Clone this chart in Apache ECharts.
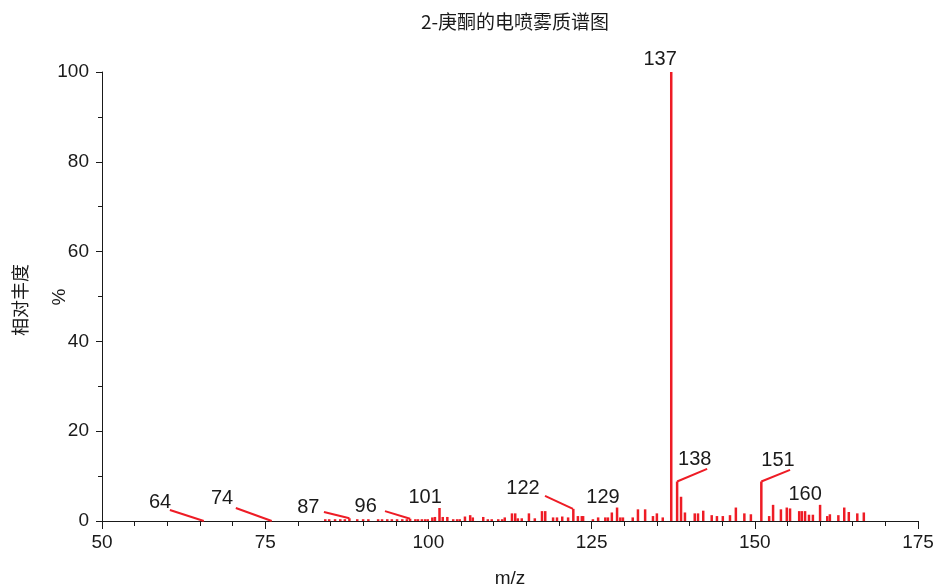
<!DOCTYPE html>
<html><head><meta charset="utf-8">
<script src="https://cdn.jsdelivr.net/npm/echarts@6/dist/echarts.min.js"></script>
<style>html,body{margin:0;padding:0;background:#fff}#c{width:940px;height:586px}</style>
</head><body><div id="c"></div>
<script>
// m/z positions of the peaks
const mz = [84.2,84.8,85.7,86.5,87.2,87.9,89.1,90.0,90.8,92.3,92.9,93.7,94.4,95.2,96.0,96.7,97.2,98.0,98.4,99.0,99.5,99.9,100.6,101.0,101.7,102.2,102.9,103.8,104.4,104.8,105.6,106.4,106.8,108.4,109.1,109.7,110.7,111.3,111.7,112.8,113.3,113.7,114.3,115.4,116.3,117.4,117.9,119.1,119.7,120.5,121.4,122.2,122.9,123.5,123.7,125.2,126.0,127.1,127.5,128.1,128.9,129.4,129.8,131.3,132.1,133.2,134.4,135.0,135.9,137.2,138.1,138.7,139.3,140.8,141.3,142.1,143.4,144.2,145.1,146.2,147.1,148.4,149.4,151.0,152.2,152.8,154.0,154.9,155.4,156.8,157.2,157.7,158.3,158.9,160.0,161.1,161.5,162.8,163.7,164.4,165.7,166.7];
// relative abundance (%)
const abundance = [0.4,0.4,0.4,0.4,0.4,0.6,0.4,0.4,0.4,0.4,0.4,0.4,0.4,0.4,0.4,0.4,0.5,0.4,0.4,0.4,0.4,0.4,0.8,0.9,2.9,0.9,0.9,0.4,0.4,0.4,1.0,1.3,0.8,0.9,0.4,0.4,0.4,0.4,0.8,1.7,1.7,0.6,0.6,1.7,0.6,2.2,2.2,0.8,0.8,1.0,0.8,2.7,1.1,1.1,1.1,0.4,0.8,0.8,0.8,1.9,3.0,0.8,0.8,0.8,2.6,2.6,1.1,1.7,0.8,100,8.8,5.4,1.9,1.7,1.7,2.3,1.3,1.1,1.1,1.3,3.0,1.7,1.5,8.8,1.1,3.6,2.6,3.0,2.8,2.2,2.2,2.2,1.4,1.4,3.6,1.1,1.5,1.3,3.0,2.0,1.7,1.9];
// annotation labels
const labelTexts = ['64','74','87','96','101','122','129','137','138','151','160'];
const labelX = [58.9,68.4,81.6,90.4,99.5,114.5,126.75,135.5,140.8,153.55,157.7];
const labelY = [4.2,5.1,3.1,3.3,5.3,7.3,5.3,102.7,13.6,13.4,5.8];
// leader lines: start (near label) -> end (peak)
const leadFromX = [60.4,70.5,84.0,93.35,117.86,138.1,151.0];
const leadFromY = [2.45,2.9,2.0,2.2,5.6,8.8,8.8];
const leadToX = [65.6,76.0,87.9,97.2,122.15,142.7,155.4];
const leadToY = [0,0,0.6,0.5,2.7,11.6,11.4];

const RED = '#ee1c25';
const FONT = '"Liberation Sans", Arial, sans-serif';
const INK = '#1a1a1a';
const chart = echarts.init(document.getElementById('c'));
chart.setOption({
  animation: false,
  title: {
    text: '2-庚酮的电喷雾质谱图', left: 510, top: 7, textAlign: 'center',
    textStyle: {fontFamily: '"Noto Sans CJK SC", sans-serif', fontSize: 19, fontWeight: 'normal', color: INK}
  },
  grid: {left: 102, right: 22, top: 72, bottom: 65, containLabel: false, outerBoundsMode: 'none'},
  xAxis: {
    type: 'value', min: 50, max: 175, interval: 25,
    name: 'm/z', nameLocation: 'middle', nameGap: 48,
    nameTextStyle: {fontFamily: FONT, fontSize: 19, color: INK},
    axisLine: {lineStyle: {color: INK, width: 1}},
    axisTick: {show: true, length: 8, lineStyle: {color: INK}},
    minorTick: {show: true, splitNumber: 5, length: 5, lineStyle: {color: INK}},
    axisLabel: {fontFamily: FONT, fontSize: 19, color: INK, margin: 12},
    splitLine: {show: false}
  },
  yAxis: {
    type: 'value', min: 0, max: 100, interval: 20,
    axisLine: {show: true, lineStyle: {color: INK, width: 1}},
    axisTick: {show: true, length: 6, lineStyle: {color: INK}},
    minorTick: {show: true, splitNumber: 2, length: 4, lineStyle: {color: INK}},
    axisLabel: {fontFamily: FONT, fontSize: 19, color: INK, margin: 13},
    splitLine: {show: false}
  },
  graphic: [
    {type: 'text', x: 20, y: 300, rotation: Math.PI / 2,
     style: {text: '相对丰度', font: '18px "Noto Sans CJK SC"', fill: INK, textAlign: 'center', textVerticalAlign: 'middle'}},
    {type: 'text', x: 60, y: 297, rotation: Math.PI / 2,
     style: {text: '%', font: '19px "Liberation Sans"', fill: INK, textAlign: 'center', textVerticalAlign: 'middle'}}
  ],
  series: [
    {
      type: 'bar', barWidth: 2.5, itemStyle: {color: RED},
      data: mz.map((m, i) => [m, abundance[i]])
    },
    {
      type: 'lines', coordinateSystem: 'cartesian2d',
      lineStyle: {color: RED, width: 2, opacity: 1},
      data: leadFromX.map((x, i) => ({coords: [[x, leadFromY[i]], [leadToX[i], leadToY[i]]]}))
    },
    {
      type: 'scatter', symbolSize: 0, clip: false,
      itemStyle: {opacity: 1},
      label: {show: true, position: 'inside', formatter: p => p.data[2],
              fontFamily: FONT, fontSize: 20, color: INK, opacity: 1},
      data: labelX.map((x, i) => [x, labelY[i], labelTexts[i]])
    }
  ]
});
</script></body></html>
